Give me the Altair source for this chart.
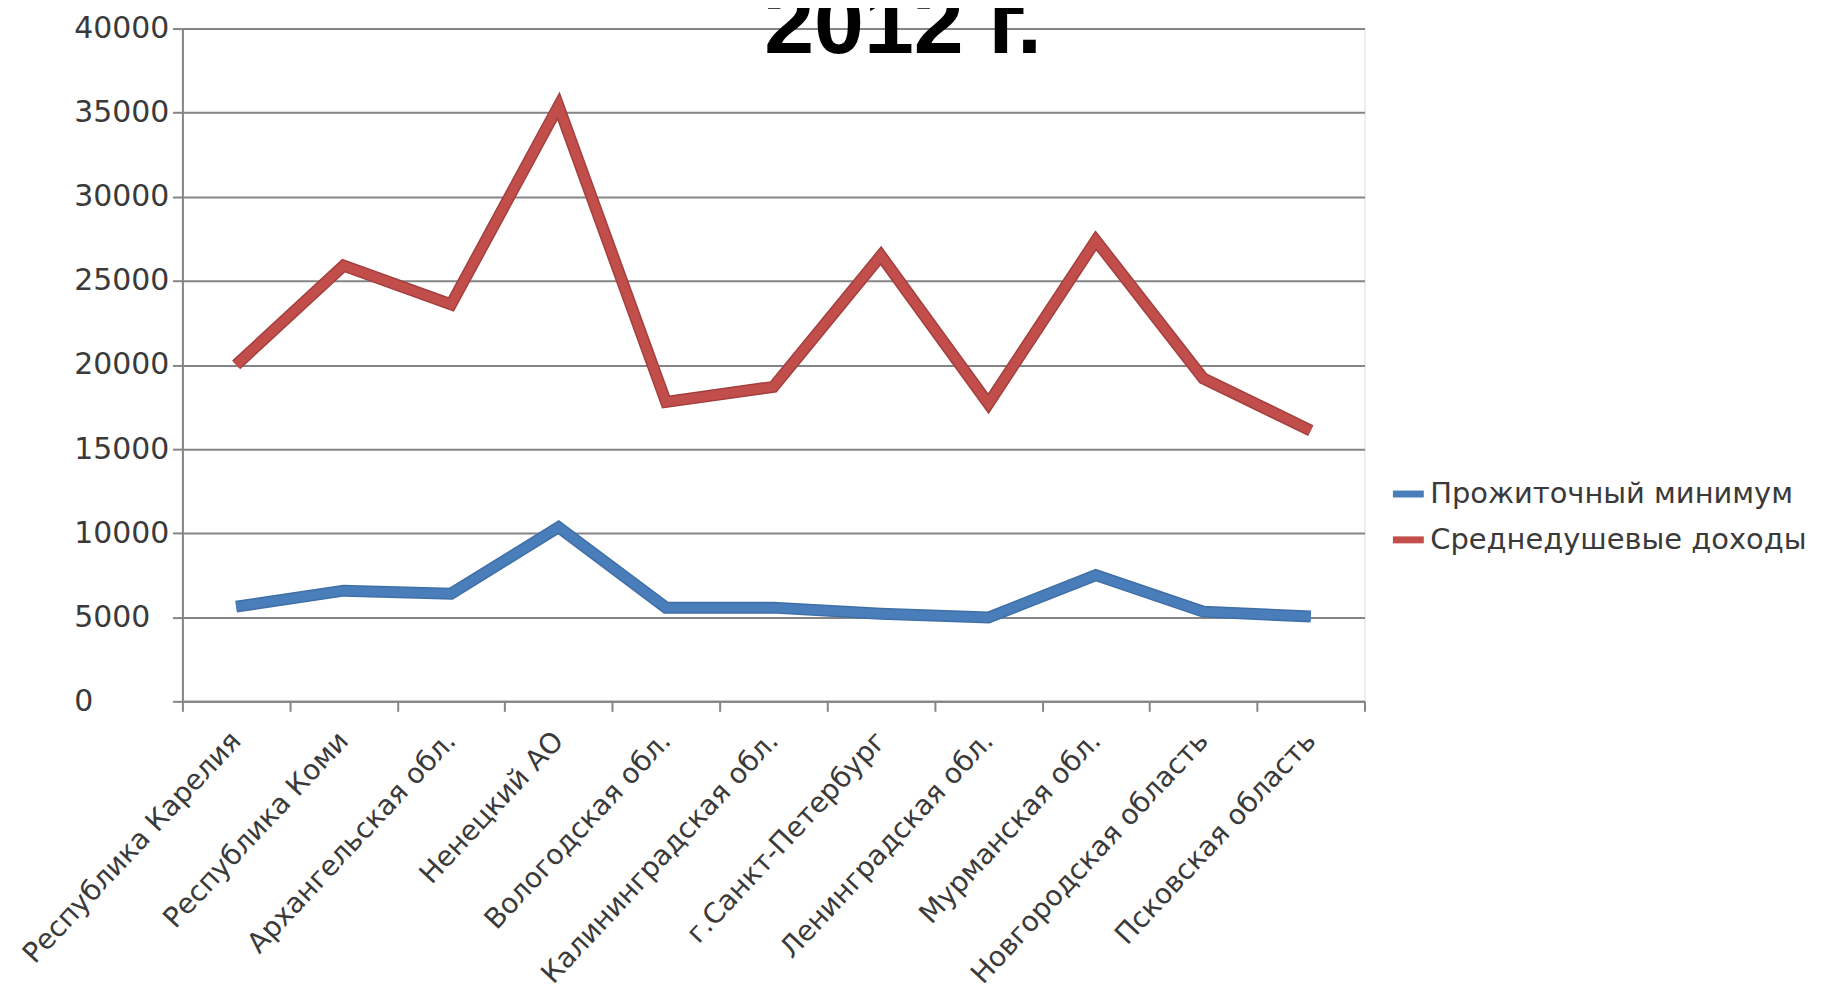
import altair as alt
import pandas as pd

regions = [
    "Республика Карелия", "Республика Коми", "Архангельская обл.", "Ненецкий АО",
    "Вологодская обл.", "Калининградская обл.", "г.Санкт-Петербург",
    "Ленинградская обл.", "Мурманская обл.", "Новгородская область", "Псковская область",
]
minimum = [5630, 6580, 6400, 10350, 5570, 5570, 5210, 4980, 7500, 5330, 5040]
income = [20000, 25900, 23600, 35400, 17800, 18700, 26500, 17700, 27400, 19200, 16100]
series = ["Прожиточный минимум", "Среднедушевые доходы"]
colors = ["#4A7EBB", "#C24E4B"]
edge_colors = ["#3F6FA6", "#A43F3D"]
y_ticks = [0, 5000, 10000, 15000, 20000, 25000, 30000, 35000, 40000]
title_text = "2012 г."

rows = []
for r, v in zip(regions, minimum):
    rows.append({"region": r, "series": series[0], "value": v})
for r, v in zip(regions, income):
    rows.append({"region": r, "series": series[1], "value": v})
df = pd.DataFrame(rows)

FONT = "DejaVu Sans"
GRID = "#858585"

x_enc = alt.X(
    "region:N", sort=regions, bandPosition=0.5,
    scale=alt.Scale(type="band", paddingInner=0, paddingOuter=0),
    axis=alt.Axis(
        title=None, labelAngle=-47, labelAlign="right", labelBaseline="middle",
        tickBand="extent", tickSize=10, tickWidth=2, tickColor=GRID,
        domainColor=GRID, domainWidth=2, grid=False,
        labelFont=FONT, labelFontSize=28, labelColor="#3a3a3a", labelPadding=25,
        labelOverlap=False, labelLimit=0,
    ),
)
y_enc = alt.Y(
    "value:Q", scale=alt.Scale(domain=[0, 40000], nice=False),
    axis=alt.Axis(
        title=None, values=y_ticks, format="d", labelAlign="left", labelBaseline="middle",
        labelPadding=99, tickSize=10, tickWidth=2, tickColor=GRID,
        domainColor=GRID, domainWidth=2, grid=True, gridColor=GRID, gridWidth=2,
        labelFont=FONT, labelFontSize=30, labelColor="#3a3a3a",
    ),
)

base = alt.Chart(df)

outer = base.mark_line(strokeWidth=12, strokeJoin="miter", strokeCap="butt").encode(
    x=x_enc, y=y_enc,
    stroke=alt.Stroke("series:N", scale=alt.Scale(domain=series, range=edge_colors), legend=None),
    detail="series:N",
)
inner = base.mark_line(strokeWidth=9, strokeJoin="miter", strokeCap="butt").encode(
    x=x_enc, y=y_enc,
    color=alt.Color(
        "series:N", scale=alt.Scale(domain=series, range=colors),
        legend=alt.Legend(
            title=None, orient="none", legendX=1211, legendY=448,
            symbolType="stroke", symbolSize=961, symbolStrokeWidth=7,
            labelFont=FONT, labelFontSize=29, labelColor="#3a3a3a",
            labelOffset=3, rowPadding=12, labelLimit=0,
        ),
    ),
)

title = alt.Chart(pd.DataFrame({"t": [title_text]})).mark_text(
    font="Liberation Sans", fontWeight="bold", fontSize=90, color="#000000",
    align="center", baseline="alphabetic",
).encode(text="t:N", x=alt.value(723), y=alt.value(25))

chart = (
    alt.layer(outer, inner, title)
    .resolve_scale(color="independent", stroke="independent")
    .properties(
        width=1186, height=675,
        autosize=alt.AutoSizeParams(type="none"),
        padding={"left": 175, "top": 19, "right": 454, "bottom": 290},
    )
    .configure_view(stroke=None)
    .configure(background="white")
)

chart.save("out.html", embed_options={"renderer": "svg", "actions": False})
